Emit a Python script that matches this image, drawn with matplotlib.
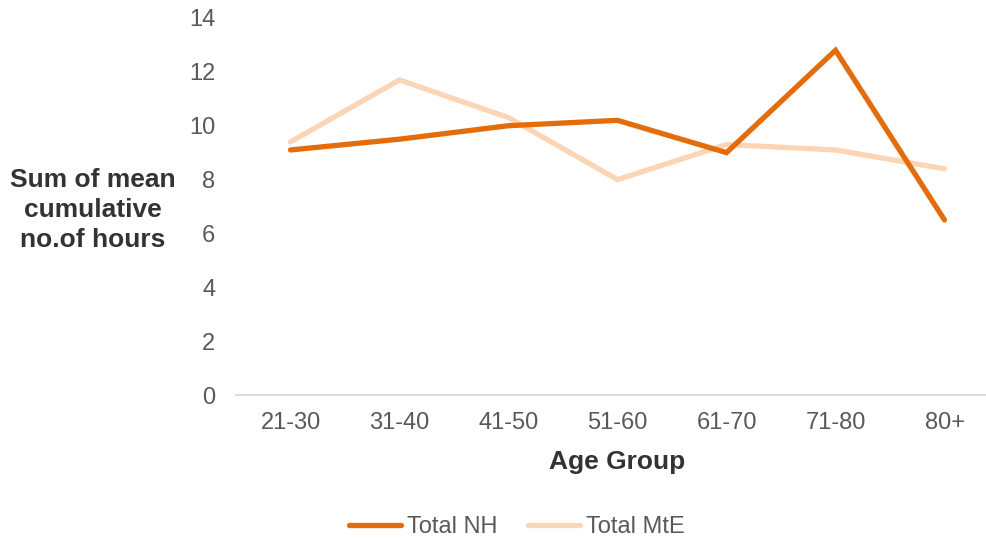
import matplotlib
matplotlib.use("Agg")
import matplotlib.pyplot as plt
from matplotlib.lines import Line2D

categories = ["21-30", "31-40", "41-50", "51-60", "61-70", "71-80", "80+"]
total_nh = [9.1, 9.5, 10.0, 10.2, 9.0, 12.8, 6.5]
total_mte = [9.4, 11.7, 10.3, 8.0, 9.3, 9.1, 8.4]
yticks = [0, 2, 4, 6, 8, 10, 12, 14]

plt.rcParams['font.family'] = ['Liberation Sans', 'DejaVu Sans']

fig = plt.figure(figsize=(9.86, 5.39), dpi=100)
ax = fig.add_axes([236/986, 1-395/539, 763/986, (395-18)/539])

x = list(range(len(categories)))
c_nh = "#E46C0A"
c_mte = "#FCD5B5"
ax.plot(x, total_nh, color=c_nh, lw=3.8, solid_capstyle='round', solid_joinstyle='miter', label="Total NH", zorder=3)
ax.plot(x, total_mte, color=c_mte, lw=3.8, solid_capstyle='round', solid_joinstyle='miter', label="Total MtE", zorder=2)

ax.set_xlim(-0.5, len(categories)-0.5)
ax.set_ylim(0, 14)
ax.set_yticks(yticks)
ax.set_xticks(x)
ax.set_xticklabels(categories)
ax.tick_params(axis='both', length=0, labelsize=17, colors="#595959")
ax.tick_params(axis='y', pad=15)
ax.tick_params(axis='x', pad=12.5)
for s in ['top', 'right', 'left']:
    ax.spines[s].set_visible(False)
ax.spines['bottom'].set_color("#D9D9D9")
ax.spines['bottom'].set_linewidth(1.3)

ax.set_xlabel("Age Group", fontsize=19, fontweight='bold', color="#333333", labelpad=11.5)
fig.text(93/986, 1-210/539, "Sum of mean\ncumulative\nno.of hours", ha='center', va='center',
         fontsize=19, fontweight='bold', color="#333333", linespacing=1.32)

handles = [Line2D([0], [0], color=c_nh, lw=3.8, solid_capstyle='round'),
           Line2D([0], [0], color=c_mte, lw=3.8, solid_capstyle='round')]
leg = fig.legend(handles, ["Total NH", "Total MtE"], loc='center', bbox_to_anchor=(517/986, 1-527/539),
                 ncol=2, frameon=False, fontsize=17, handlelength=2.2, handletextpad=0.25, columnspacing=1.3)
for t in leg.get_texts():
    t.set_color("#595959")

fig.savefig("out.png", dpi=100)
